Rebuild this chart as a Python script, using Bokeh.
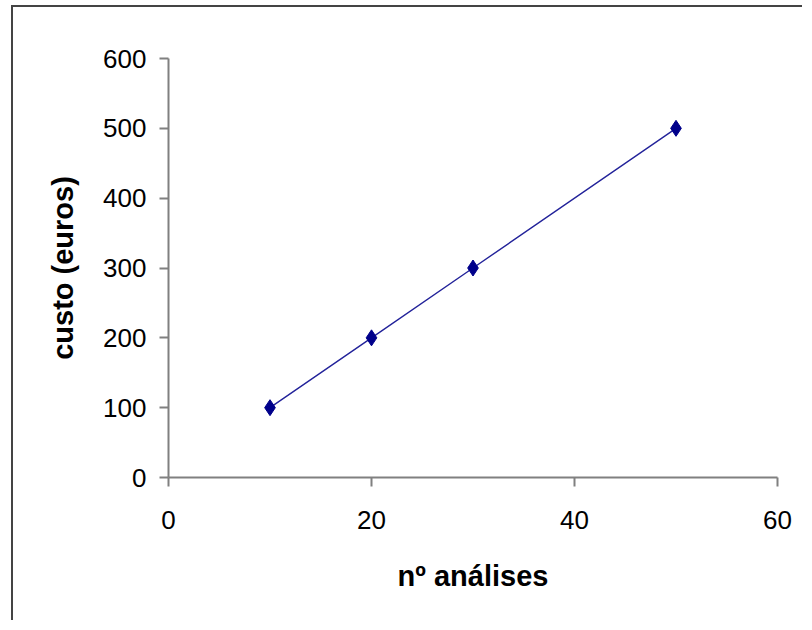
from bokeh.plotting import figure
from bokeh.layouts import column
from bokeh.models import Range1d, FixedTicker
from bokeh.embed import file_html
from bokeh.resources import INLINE

analises = [10, 20, 30, 50]
custo = [100, 200, 300, 500]
x_ticks = [0, 20, 40, 60]
y_ticks = [0, 100, 200, 300, 400, 500, 600]

p = figure(width=791, height=615, output_backend="svg", toolbar_location=None,
           x_range=Range1d(0, 60), y_range=Range1d(0, 600),
           min_border_left=155, min_border_right=27, min_border_top=51, min_border_bottom=145)
p.margin = (5, 0, 0, 11)
p.styles = {"border-left": "2px solid #444444", "border-top": "2px solid #444444"}
p.outline_line_color = None
p.grid.visible = False
p.background_fill_color = "white"
p.border_fill_color = "white"

p.line(analises, custo, line_color="#23239a", line_width=1.4)
p.scatter(analises, custo, marker="diamond", size=16, fill_color="#00008b", line_color="#00008b")

for ax in (p.xaxis[0], p.yaxis[0]):
    ax.axis_line_color = "#808080"
    ax.axis_line_width = 2
    ax.major_tick_line_color = "#808080"
    ax.major_tick_line_width = 2
    ax.major_tick_out = 9
    ax.major_tick_in = 0
    ax.minor_tick_line_color = None
    ax.major_label_text_font = "Liberation Sans"
    ax.major_label_text_font_size = "26px"
    ax.major_label_text_color = "black"
    ax.axis_label_text_font = "Liberation Sans"
    ax.axis_label_text_font_size = "29px"
    ax.axis_label_text_font_style = "bold"
    ax.axis_label_text_color = "black"

p.xaxis.ticker = FixedTicker(ticks=x_ticks)
p.yaxis.ticker = FixedTicker(ticks=y_ticks)
p.xaxis.axis_label = "nº análises"
p.yaxis.axis_label = "custo (euros)"
p.xaxis.major_label_standoff = 24
p.yaxis.major_label_standoff = 13
p.xaxis.axis_label_standoff = 28
p.yaxis.axis_label_standoff = 21

layout = column(p)
open("out.html", "w").write(file_html(layout, INLINE))
